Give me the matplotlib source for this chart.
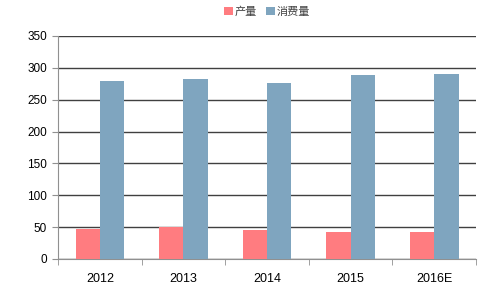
import numpy as np
import matplotlib.pyplot as plt

plt.rcParams['font.family'] = ['Noto Sans CJK SC', 'DejaVu Sans']

# 数据
years = ['2012', '2013', '2014', '2015', '2016E']
production = [47, 50, 45, 42, 42]
consumption = [279, 283, 276, 289, 290]

fig = plt.figure(figsize=(4.98, 2.97), dpi=100)
ax = fig.add_axes([0.1165, 0.128, 0.8395, 0.751])

x = np.arange(len(years))
w = 0.29
ax.bar(x - w / 2, production, w, color='#FF7C80', label='产量', zorder=3)
ax.bar(x + w / 2, consumption, w, color='#7FA5BF', label='消费量', zorder=3)

ax.set_xlim(-0.5, len(years) - 0.5)
ax.set_ylim(0, 350)
ax.set_yticks(range(0, 351, 50))
ax.yaxis.grid(True, color='#404040', linewidth=1.0, zorder=0)

# x 轴刻度在类别之间
ax.set_xticks(x)
ax.set_xticklabels(years, fontsize=9, family=['Liberation Sans', 'DejaVu Sans'])
ax.tick_params(axis='x', which='major', length=0, pad=10)
ax.set_xticks(np.arange(-0.5, len(years)), minor=True)
ax.tick_params(axis='x', which='minor', length=4, color='#909090', direction='out')
ax.tick_params(axis='y', length=4, color='#909090', labelsize=8.5, pad=4)
for lab in ax.get_yticklabels():
    lab.set_family(['Liberation Sans', 'DejaVu Sans'])

for s in ['top', 'right']:
    ax.spines[s].set_visible(False)
ax.spines['left'].set_color('#909090')
ax.spines['bottom'].set_color('#909090')

ax.legend(loc='lower center', bbox_to_anchor=(0.5, 1.04), ncol=2, frameon=False,
          fontsize=8, handlelength=0.8, handleheight=0.8, handletextpad=0.2,
          columnspacing=0.8, labelcolor='#404040')

fig.savefig('out.png', dpi=100)
